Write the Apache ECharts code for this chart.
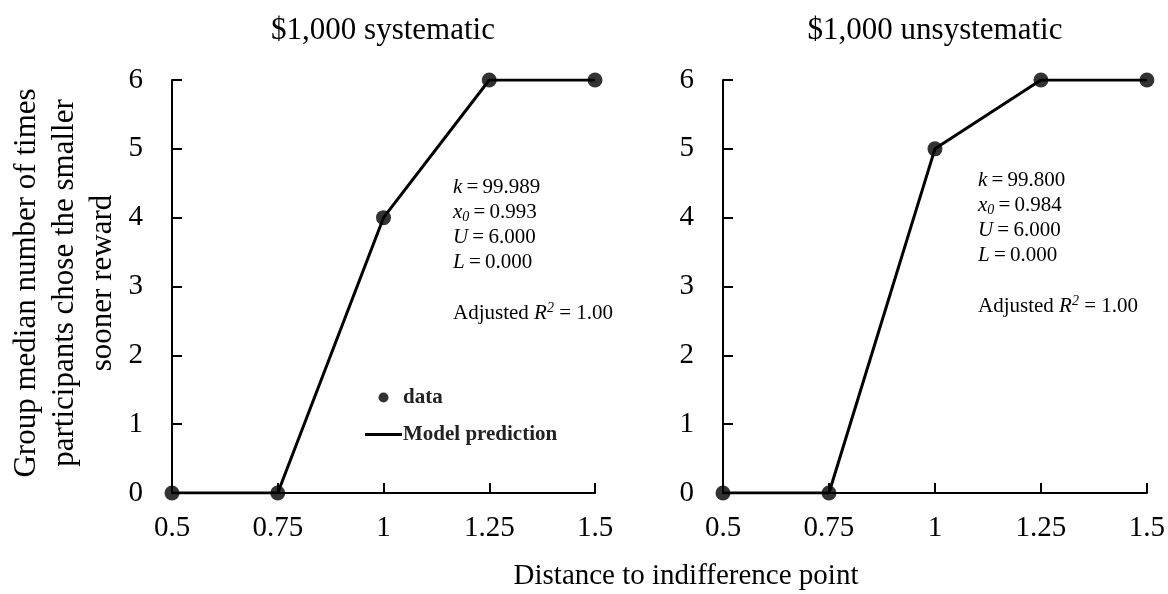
<!DOCTYPE html>
<html>
<head>
<meta charset="utf-8">
<script src="https://cdn.jsdelivr.net/npm/echarts@6/dist/echarts.min.js"></script>
<style>
  html, body { margin: 0; padding: 0; background: #fff; }
  #chart { width: 1168px; height: 594px; }
</style>
</head>
<body>
<div id="chart"></div>
<script>
// Distance to the indifference point (x values shared by both panels)
const distances = [0.5, 0.75, 1, 1.25, 1.5];
const xTicks = { min: 0.5, max: 1.5, step: 0.25 };
const yTicks = { min: 0, max: 6, step: 1 };

// Group median choices of the smaller sooner reward
const systematicData = [0, 0, 4, 6, 6];
const systematicModel = [0, 0, 4, 6, 6];
const unsystematicData = [0, 0, 5, 6, 6];
const unsystematicModel = [0, 0, 5, 6, 6];

const panelTitles = ['$1,000 systematic', '$1,000 unsystematic'];
const fitParams = [
  { k: '99.989', x0: '0.993', U: '6.000', L: '0.000', r2: '1.00' },
  { k: '99.800', x0: '0.984', U: '6.000', L: '0.000', r2: '1.00' }
];

const SERIF = '"Liberation Serif", "Times New Roman", serif';
const pairs = (ys) => distances.map((x, i) => [x, ys[i]]);

const grids = [
  { left: 172, right: 573, top: 80, bottom: 101 },
  { left: 723, right: 21, top: 80, bottom: 101 }
];

function xAxisFor(i) {
  return {
    type: 'value', gridIndex: i,
    min: xTicks.min, max: xTicks.max, interval: xTicks.step,
    axisLine: { lineStyle: { color: '#000', width: 2 } },
    axisTick: { inside: true, length: 10, lineStyle: { color: '#000', width: 2 } },
    axisLabel: { color: '#000', fontFamily: SERIF, fontSize: 29, margin: 21 },
    splitLine: { show: false }
  };
}
function yAxisFor(i) {
  return {
    type: 'value', gridIndex: i,
    min: yTicks.min, max: yTicks.max, interval: yTicks.step,
    axisLine: { show: true, lineStyle: { color: '#000', width: 2 } },
    axisTick: { show: true, inside: true, length: 10, lineStyle: { color: '#000', width: 2 } },
    axisLabel: { color: '#000', fontFamily: SERIF, fontSize: 29, margin: 29 },
    splitLine: { show: false }
  };
}

function lineSeries(i, ys) {
  return {
    name: 'Model prediction', type: 'line', xAxisIndex: i, yAxisIndex: i,
    data: pairs(ys), showSymbol: false, symbol: 'none',
    lineStyle: { color: '#000', width: 3 }, itemStyle: { color: '#000' },
    z: 2, animation: false
  };
}
function dotSeries(i, ys) {
  return {
    name: 'data', type: 'scatter', xAxisIndex: i, yAxisIndex: i,
    data: pairs(ys), symbol: 'circle', symbolSize: 15,
    itemStyle: { color: '#000' }, z: 3, animation: false
  };
}

// Fitted-parameter block: four parameter lines, then the adjusted R² line
function paramTexts(p, x, y) {
  const size = 21;
  const base = { fontFamily: SERIF, fill: '#000' };
  const rich = {
    n: { fontFamily: SERIF, fontSize: size, color: '#000', lineHeight: 25 },
    i: { fontFamily: SERIF, fontSize: size, fontStyle: 'italic', color: '#000', lineHeight: 25 },
    sub: { fontFamily: SERIF, fontSize: 14, fontStyle: 'italic', color: '#000', lineHeight: 25, padding: [10, 0, 0, 0] },
    sup: { fontFamily: SERIF, fontSize: 14, fontStyle: 'italic', color: '#000', lineHeight: 25, padding: [0, 0, 10, 0] }
  };
  const eq = '\u2009=\u2009';
  return [
    {
      type: 'text', x: x, y: y,
      style: {
        ...base, fontSize: size, lineHeight: 25, textVerticalAlign: 'middle',
        text: [
          '{i|k}{n|' + eq + p.k + '}',
          '{i|x}{sub|0}{n|' + eq + p.x0 + '}',
          '{i|U}{n|' + eq + p.U + '}',
          '{i|L}{n|' + eq + p.L + '}'
        ].join('\n'),
        rich: rich
      }
    },
    {
      type: 'text', x: x, y: y + 88,
      style: {
        ...base, fontSize: size, lineHeight: 25, textVerticalAlign: 'middle',
        text: '{n|Adjusted }{i|R}{sup|2}{n| = ' + p.r2 + '}',
        rich: rich
      }
    }
  ];
}

const option = {
  backgroundColor: '#fff',
  animation: false,
  grid: grids,
  xAxis: [xAxisFor(0), xAxisFor(1)],
  yAxis: [yAxisFor(0), yAxisFor(1)],
  legend: {
    orient: 'vertical', left: 365, top: 387, padding: 0, itemGap: 16,
    itemWidth: 37, itemHeight: 10,
    textStyle: { fontFamily: SERIF, fontSize: 21, fontWeight: 'bold', color: '#222', padding: [0, 0, 0, -4] },
    data: [
      { name: 'data', icon: 'circle' },
      { name: 'Model prediction', icon: 'path://M0,0 L40,0 L40,3 L0,3 Z' }
    ],
    selectedMode: false
  },
  series: [
    lineSeries(0, systematicModel), dotSeries(0, systematicData),
    lineSeries(1, unsystematicModel), dotSeries(1, unsystematicData)
  ],
  graphic: [
    { type: 'text', x: 383, y: 31, style: { text: panelTitles[0], fontFamily: SERIF, fontSize: 31, fill: '#000', textAlign: 'center', textVerticalAlign: 'middle' } },
    { type: 'text', x: 935, y: 31, style: { text: panelTitles[1], fontFamily: SERIF, fontSize: 31, fill: '#000', textAlign: 'center', textVerticalAlign: 'middle' } },
    {
      type: 'text', x: 65, y: 283, rotation: Math.PI / 2,
      style: {
        text: 'Group median number of times\nparticipants chose the smaller\nsooner reward',
        fontFamily: SERIF, fontSize: 31, lineHeight: 38, fill: '#000',
        textAlign: 'center', textVerticalAlign: 'middle'
      }
    },
    { type: 'text', x: 686, y: 576, style: { text: 'Distance to indifference point', fontFamily: SERIF, fontSize: 29, fill: '#000', textAlign: 'center', textVerticalAlign: 'middle' } },
    ...paramTexts(fitParams[0], 453, 225),
    ...paramTexts(fitParams[1], 978, 218)
  ]
};

const chart = echarts.init(document.getElementById('chart'), null, { renderer: 'canvas' });
chart.setOption(option);
</script>
</body>
</html>
